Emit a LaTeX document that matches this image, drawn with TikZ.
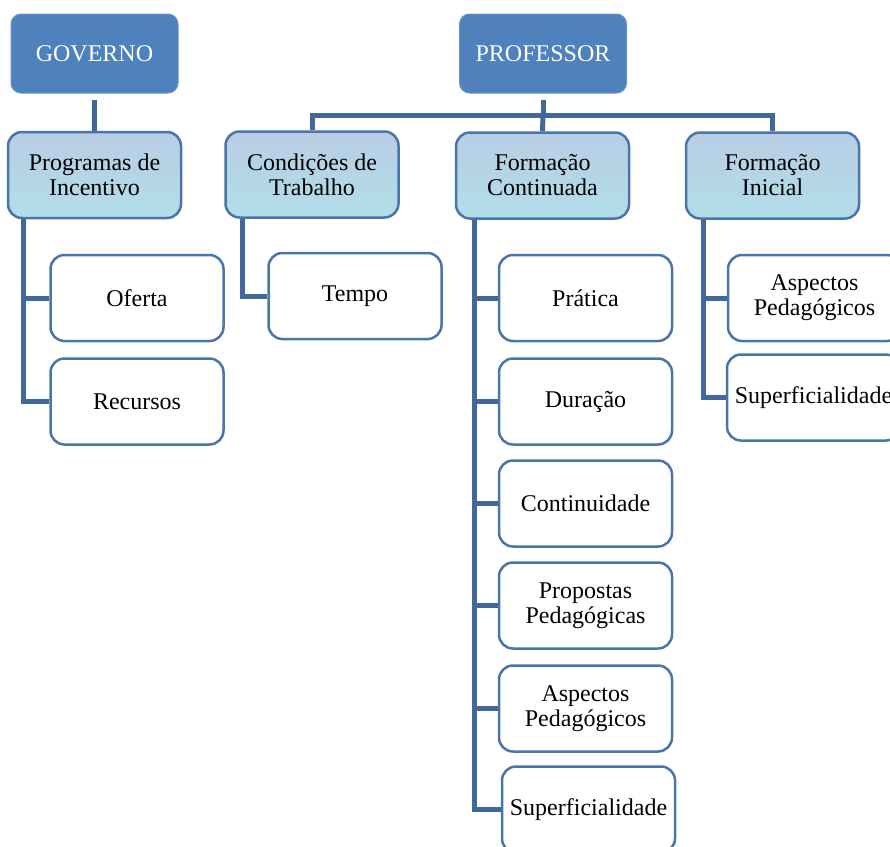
\documentclass[tikz,border=0pt]{standalone}
\usepackage{fontspec}
\setmainfont{Liberation Serif}
\definecolor{topblue}{HTML}{4F81BD}
\definecolor{bordblue}{HTML}{4A75A8}
\definecolor{connblue}{HTML}{416898}
\definecolor{gradtop}{HTML}{B9CDE5}
\definecolor{gradbot}{HTML}{B0DEE8}
\begin{document}
\begin{tikzpicture}[x=1pt,y=-1pt,
  every node/.style={font=\fontsize{24}{25}\selectfont, align=center, inner sep=0pt},
  topbox/.style={rectangle, rounded corners=10pt, fill=topblue, draw=topblue!85!white, line width=1pt,
    minimum width=167pt, minimum height=79pt, text=white},
  midbox/.style={rectangle, rounded corners=14pt, top color=gradtop, bottom color=gradbot,
    draw=bordblue, line width=2.5pt, minimum width=173pt, minimum height=86pt, text=black},
  leafbox/.style={rectangle, rounded corners=14pt, fill=white,
    draw=bordblue, line width=2.5pt, minimum width=173pt, minimum height=86pt, text=black},
  conn/.style={draw=connblue, line width=5pt}
]
\useasboundingbox (0,0) rectangle (890,846);
\clip (0,0) rectangle (890,846);

\node[topbox] (gov) at (94.5,53.5) {GOVERNO};
\node[topbox] (prof) at (543,53.5) {PROFESSOR};

\node[midbox] (prog) at (94.5,175) {Programas de\\Incentivo};
\node[midbox] (cond) at (312,174.5) {Condições de\\Trabalho};
\node[midbox] (fc) at (542.5,175.5) {Formação\\Continuada};
\node[midbox] (fi) at (772.5,175.5) {Formação\\Inicial};

\node[leafbox] (oferta) at (137,298) {Oferta};
\node[leafbox] (recursos) at (137,401.5) {Recursos};
\node[leafbox] (tempo) at (355,296) {Tempo};
\node[leafbox] (pratica) at (585.5,298) {Prática};
\node[leafbox] (duracao) at (585.5,401.5) {Duração};
\node[leafbox] (contin) at (585.5,503.5) {Continuidade};
\node[leafbox] (propostas) at (585.5,605.5) {Propostas\\Pedagógicas};
\node[leafbox] (aspfc) at (585.5,708.5) {Aspectos\\Pedagógicos};
\node[leafbox] (supfc) at (588.5,809.5) {Superficialidade};
\node[leafbox] (aspfi) at (814.5,298) {Aspectos\\Pedagógicos};
\node[leafbox] (supfi) at (813.5,397.5) {Superficialidade};

% top connectors
\draw[conn] ([yshift=-6pt]gov.south) -- (prog.north);
\coordinate (pj) at (543,115);
\draw[conn] ([yshift=-6pt]prof.south) -- (pj);
\draw[conn] (cond.north) |- (fi.north |- pj) -- (fi.north);
\draw[conn] (pj) -- (fc.north);

% trunks
\draw[conn] ([xshift=17pt]prog.south west) |- (oferta.west);
\draw[conn] ([xshift=17pt]prog.south west) |- (recursos.west);
\draw[conn] ([xshift=18pt]cond.south west) |- (tempo.west);
\foreach \n in {pratica,duracao,contin,propostas,aspfc,supfc}
  \draw[conn] ([xshift=20pt]fc.south west) |- (\n.west);
\draw[conn] ([xshift=19pt]fi.south west) |- (aspfi.west);
\draw[conn] ([xshift=19pt]fi.south west) |- (supfi.west);
\end{tikzpicture}
\end{document}
